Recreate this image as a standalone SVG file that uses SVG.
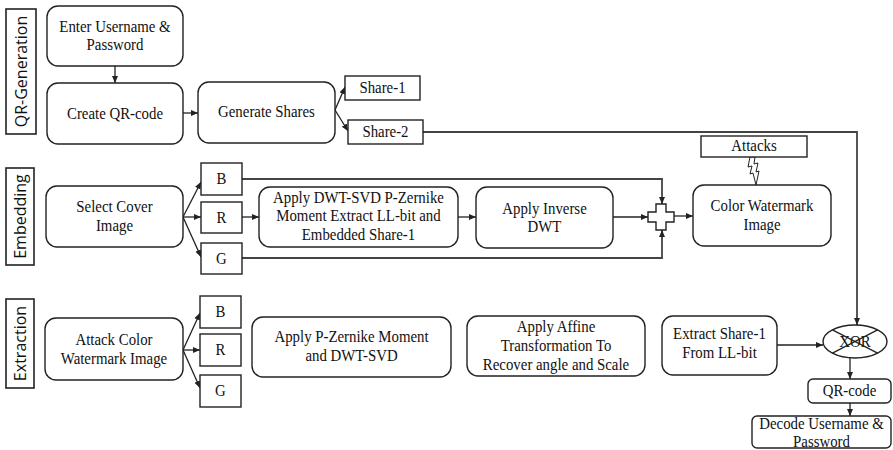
<svg xmlns="http://www.w3.org/2000/svg" width="893" height="450" viewBox="0 0 893 450">
<style>
.n{fill:#fff;stroke:#222;stroke-width:1.4}
.s{fill:#fff;stroke:#222;stroke-width:1.4}
.lab{fill:#fff;stroke:#222;stroke-width:1.6}
.c{fill:none;stroke:#222;stroke-width:1.3}
.big{fill:none;stroke:#444;stroke-width:1.8}
.t{font-family:"Liberation Serif","Times New Roman",serif;font-size:16.5px;fill:#111;text-anchor:middle}
.st{font-family:"Open Sans","Liberation Sans",sans-serif;font-size:16px;fill:#111;text-anchor:middle}
</style>
<defs>
<marker id="a" markerUnits="userSpaceOnUse" markerWidth="8" markerHeight="7" refX="7" refY="3" orient="auto">
<path d="M0,0 L7,3 L0,6 z" fill="#222"/>
</marker>
</defs>
<rect width="893" height="450" fill="#fff"/>

<g id="labels">
<g id="lab-qr"><rect class="lab" x="6" y="9" width="30" height="125"/><text class="st" transform="translate(27 71.5) rotate(-90)">QR-Generation</text></g>
<g id="lab-emb"><rect class="lab" x="6" y="168" width="28" height="97"/><text class="st" transform="translate(26 216.5) rotate(-90)">Embedding</text></g>
<g id="lab-ext"><rect class="lab" x="6" y="299" width="28" height="89"/><text class="st" transform="translate(26 343.5) rotate(-90)">Extraction</text></g>
</g>

<g id="connectors">
<line class="c" x1="115" y1="66" x2="115" y2="83" marker-end="url(#a)"/>
<line class="c" x1="183" y1="113" x2="198" y2="113" marker-end="url(#a)"/>
<line class="c" x1="335" y1="110" x2="345" y2="87" marker-end="url(#a)"/>
<line class="c" x1="335" y1="110" x2="348" y2="131" marker-end="url(#a)"/>
<polyline class="big" points="423,132 857,132 857,325" marker-end="url(#a)"/>
<line class="c" x1="183" y1="217" x2="201" y2="182" marker-end="url(#a)"/>
<line class="c" x1="183" y1="217" x2="201" y2="217" marker-end="url(#a)"/>
<line class="c" x1="183" y1="217" x2="201" y2="257" marker-end="url(#a)"/>
<line class="c" x1="242" y1="217" x2="259" y2="217" marker-end="url(#a)"/>
<polyline class="big" points="242,179 662,179 662,204" marker-end="url(#a)"/>
<polyline class="big" points="242,258 662,258 662,230" marker-end="url(#a)"/>
<line class="c" x1="458" y1="217" x2="476" y2="217" marker-end="url(#a)"/>
<line class="c" x1="613" y1="217" x2="648" y2="217" marker-end="url(#a)"/>
<line class="c" x1="674" y1="216" x2="693" y2="216" marker-end="url(#a)"/>
<polygon fill="#fff" stroke="#222" stroke-width="1" points="750,157 755,157 754,164 758,163 756,172 759,171 756,185 753,173 750,174 752,166 748,167"/>
<line class="c" x1="183" y1="350" x2="200" y2="313" marker-end="url(#a)"/>
<line class="c" x1="183" y1="350" x2="200" y2="350" marker-end="url(#a)"/>
<line class="c" x1="183" y1="350" x2="200" y2="388" marker-end="url(#a)"/>
<line class="c" x1="777" y1="345" x2="823" y2="345" marker-end="url(#a)"/>
<line class="c" x1="850" y1="358" x2="850" y2="379" marker-end="url(#a)"/>
<line class="c" x1="850" y1="403" x2="850" y2="416" marker-end="url(#a)"/>
</g>

<g id="nodes">
<g id="enter"><rect class="n" x="47" y="6" width="136" height="60" rx="11"/></g>
<g id="createqr"><rect class="n" x="47" y="83" width="136" height="61" rx="11"/></g>
<g id="genshares"><rect class="n" x="198" y="82" width="137" height="61" rx="11"/></g>
<g id="share1"><rect class="s" x="345" y="76" width="75" height="24"/></g>
<g id="share2"><rect class="s" x="348" y="120" width="75" height="24"/></g>
<g id="attacks"><rect class="s" x="701" y="136" width="106" height="21"/></g>
<g id="selectcover"><rect class="n" x="46" y="186" width="137" height="61" rx="11"/></g>
<g id="eB"><rect class="s" x="201" y="163" width="41" height="32"/></g>
<g id="eR"><rect class="s" x="201" y="202" width="41" height="31"/></g>
<g id="eG"><rect class="s" x="201" y="243" width="41" height="31"/></g>
<g id="dwtsvd"><rect class="n" x="259" y="187" width="199" height="60" rx="11"/></g>
<g id="invdwt"><rect class="n" x="476" y="187" width="137" height="61" rx="11"/></g>
<g id="plus"><polygon fill="#fff" stroke="#222" stroke-width="1.4" points="656,204 666,204 666,212 674,212 674,222 666,222 666,230 656,230 656,222 648,222 648,212 656,212"/></g>
<g id="colorwm"><rect class="n" x="693" y="185" width="138" height="61" rx="11"/></g>
<g id="attackcolor"><rect class="n" x="45" y="318" width="138" height="62" rx="11"/></g>
<g id="xB"><rect class="s" x="200" y="296" width="41" height="32"/></g>
<g id="xR"><rect class="s" x="200" y="334" width="41" height="32"/></g>
<g id="xG"><rect class="s" x="200" y="375" width="41" height="32"/></g>
<g id="pzernike"><rect class="n" x="252" y="317" width="199" height="60" rx="11"/></g>
<g id="affine"><rect class="n" x="467" y="316" width="178" height="60" rx="11"/></g>
<g id="extract"><rect class="n" x="662" y="316" width="115" height="59" rx="11"/></g>
<g id="xor"><ellipse fill="#fff" stroke="#222" stroke-width="1.4" cx="855" cy="341.5" rx="32" ry="16.5"/></g>
<g id="qrcode"><rect class="n" x="808" y="379" width="83" height="24" rx="5"/></g>
<g id="decode"><rect class="n" x="752" y="416" width="139" height="32" rx="5"/></g>
</g>

<g id="texts" transform="scale(0.9 1)">
<text class="t" x="127.8" y="32">Enter Username &amp;</text>
<text class="t" x="127.8" y="50">Password</text>
<text class="t" x="127.8" y="119">Create QR-code</text>
<text class="t" x="296.1" y="117">Generate Shares</text>
<text class="t" x="425" y="93">Share-1</text>
<text class="t" x="428.3" y="137">Share-2</text>
<text class="t" x="837.8" y="151">Attacks</text>
<text class="t" x="127.2" y="212">Select Cover</text>
<text class="t" x="127.2" y="231">Image</text>
<text class="t" x="246.1" y="184">B</text>
<text class="t" x="246.1" y="223">R</text>
<text class="t" x="246.1" y="264">G</text>
<text class="t" x="398.3" y="203">Apply DWT-SVD P-Zernike</text>
<text class="t" x="398.3" y="221">Moment Extract LL-bit and</text>
<text class="t" x="398.3" y="240">Embedded Share-1</text>
<text class="t" x="605" y="214">Apply Inverse</text>
<text class="t" x="605" y="232">DWT</text>
<text class="t" x="846.7" y="211">Color Watermark</text>
<text class="t" x="846.7" y="230">Image</text>
<text class="t" x="126.7" y="345">Attack Color</text>
<text class="t" x="126.7" y="364">Watermark Image</text>
<text class="t" x="245" y="317">B</text>
<text class="t" x="245" y="355">R</text>
<text class="t" x="245" y="396">G</text>
<text class="t" x="390.6" y="342">Apply P-Zernike Moment</text>
<text class="t" x="390.6" y="361">and DWT-SVD</text>
<text class="t" x="617.8" y="332">Apply Affine</text>
<text class="t" x="617.8" y="351">Transformation To</text>
<text class="t" x="617.8" y="370">Recover angle and Scale</text>
<text class="t" x="799.4" y="339">Extract Share-1</text>
<text class="t" x="799.4" y="358">From LL-bit</text>
<text class="t" x="950" y="347">XOR</text>
<text class="t" x="943.9" y="396">QR-code</text>
<text class="t" x="912.8" y="429">Decode Username &amp;</text>
<text class="t" x="912.8" y="447">Password</text>
</g>

<g id="xorcross">
<line class="c" x1="832.4" y1="329.8" x2="877.6" y2="353.2"/>
<line class="c" x1="832.4" y1="353.2" x2="877.6" y2="329.8"/>
</g>
</svg>
